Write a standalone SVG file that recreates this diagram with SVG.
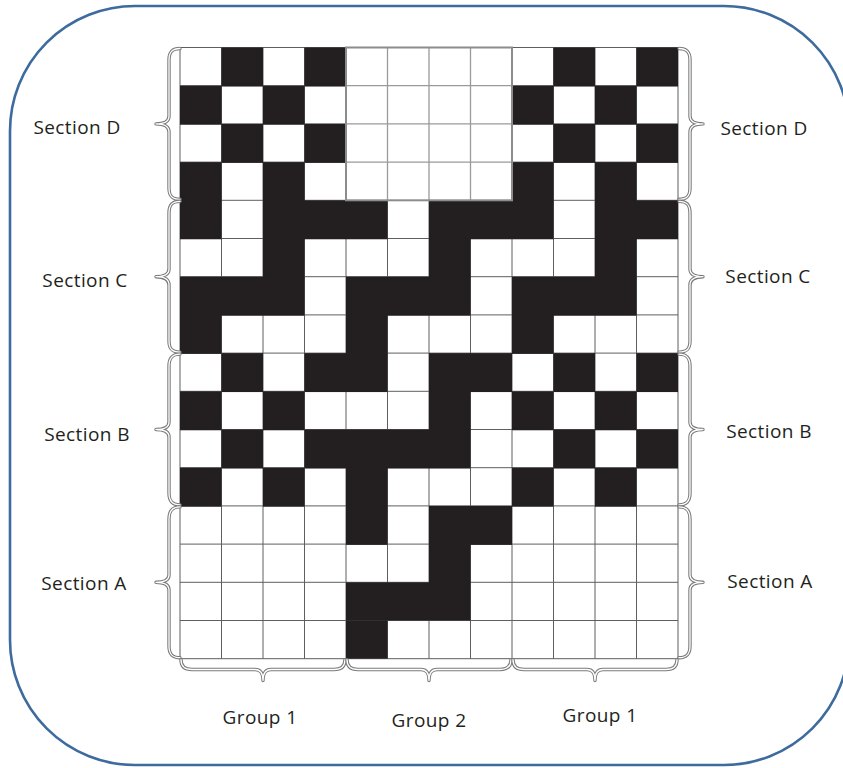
<svg xmlns="http://www.w3.org/2000/svg" width="843" height="768" viewBox="0 0 843 768">
<style>
.lbl{font-family:"Open Sans","Noto Sans","Liberation Sans",sans-serif;font-size:19px;fill:#231f20;letter-spacing:0.4px;text-anchor:middle}
.gl{stroke:#5e5e5e;stroke-width:1;fill:none}
.ml{stroke:#9a9a9a;stroke-width:1.3;fill:none}
.br{fill:none;stroke:#7a7a7a;stroke-width:3.4;stroke-linejoin:round;stroke-linecap:round}
.bri{fill:none;stroke:#ffffff;stroke-width:1.3;stroke-linejoin:round;stroke-linecap:round}
.blk{fill:#231f20}
</style>
<defs>
<path id="bL" d="M 0 0 C -8 0 -11 3 -11 11 L -11 -2 Z"/>
</defs>
<rect width="843" height="768" fill="#ffffff"/>
<g id="frame">
<rect x="10" y="6" width="839" height="759" rx="125" ry="125" fill="none" stroke="#3d6b9e" stroke-width="2.6"/>
</g>
<g id="grid">
<rect x="180" y="47.5" width="498" height="611.2" fill="#ffffff"/>
<g class="gl">
<path d="M180 47.5V658.7M221.5 47.5V658.7M263 47.5V658.7M304.5 47.5V658.7M346 47.5V658.7M387.5 47.5V658.7M429 47.5V658.7M470.5 47.5V658.7M512 47.5V658.7M553.5 47.5V658.7M595 47.5V658.7M636.5 47.5V658.7M678 47.5V658.7"/>
<path d="M180 47.5H678M180 85.7H678M180 123.9H678M180 162.1H678M180 200.3H678M180 238.5H678M180 276.7H678M180 314.9H678M180 353.1H678M180 391.3H678M180 429.5H678M180 467.7H678M180 505.9H678M180 544.1H678M180 582.3H678M180 620.5H678M180 658.7H678"/>
</g>
<g class="blk" transform="translate(180,47.5) scale(41.5,38.2)">
<rect x="1" y="0" width="1" height="1.02"/><rect x="3" y="0" width="1" height="1.02"/><rect x="9" y="0" width="1" height="1.02"/><rect x="11" y="0" width="1" height="1.02"/>
<rect x="0" y="1" width="1" height="1.02"/><rect x="2" y="1" width="1" height="1.02"/><rect x="8" y="1" width="1" height="1.02"/><rect x="10" y="1" width="1" height="1.02"/>
<rect x="1" y="2" width="1" height="1.02"/><rect x="3" y="2" width="1" height="1.02"/><rect x="9" y="2" width="1" height="1.02"/><rect x="11" y="2" width="1" height="1.02"/>
<rect x="0" y="3" width="1" height="1.02"/><rect x="2" y="3" width="1" height="1.02"/><rect x="8" y="3" width="1" height="1.02"/><rect x="10" y="3" width="1" height="1.02"/>
<rect x="0" y="4" width="1" height="1.02"/><rect x="2" y="4" width="3" height="1.02"/><rect x="6" y="4" width="3" height="1.02"/><rect x="10" y="4" width="2" height="1.02"/>
<rect x="2" y="5" width="1" height="1.02"/><rect x="6" y="5" width="1" height="1.02"/><rect x="10" y="5" width="1" height="1.02"/>
<rect x="0" y="6" width="3" height="1.02"/><rect x="4" y="6" width="3" height="1.02"/><rect x="8" y="6" width="3" height="1.02"/>
<rect x="0" y="7" width="1" height="1.02"/><rect x="4" y="7" width="1" height="1.02"/><rect x="8" y="7" width="1" height="1.02"/>
<rect x="1" y="8" width="1" height="1.02"/><rect x="3" y="8" width="2" height="1.02"/><rect x="6" y="8" width="2" height="1.02"/><rect x="9" y="8" width="1" height="1.02"/><rect x="11" y="8" width="1" height="1.02"/>
<rect x="0" y="9" width="1" height="1.02"/><rect x="2" y="9" width="1" height="1.02"/><rect x="6" y="9" width="1" height="1.02"/><rect x="8" y="9" width="1" height="1.02"/><rect x="10" y="9" width="1" height="1.02"/>
<rect x="1" y="10" width="1" height="1.02"/><rect x="3" y="10" width="4" height="1.02"/><rect x="9" y="10" width="1" height="1.02"/><rect x="11" y="10" width="1" height="1.02"/>
<rect x="0" y="11" width="1" height="1.02"/><rect x="2" y="11" width="1" height="1.02"/><rect x="4" y="11" width="1" height="1.02"/><rect x="8" y="11" width="1" height="1.02"/><rect x="10" y="11" width="1" height="1.02"/>
<rect x="4" y="12" width="1" height="1.02"/><rect x="6" y="12" width="2" height="1.02"/>
<rect x="6" y="13" width="1" height="1.02"/>
<rect x="4" y="14" width="3" height="1"/>
<rect x="4" y="15" width="1" height="1"/>
</g>
<g id="plain-block">
<rect x="346" y="47.5" width="166" height="152.8" fill="#ffffff"/>
<path class="ml" d="M387.5 47.5V200.3M429 47.5V200.3M470.5 47.5V200.3M346 85.7H512M346 123.9H512M346 162.1H512"/>
<rect x="346" y="47.5" width="166" height="152.8" fill="none" stroke="#8c8c8c" stroke-width="2"/>
</g>
</g>
<g id="braces">
<g id="brace-left-D"><path class="br" d="M180 48.5C172 48.5 169 52 169 60L169 116C169 121 165 123.9 156 123.9C165 123.9 169 127 169 132L169 188C169 196 172 199.3 180 199.3"/><path class="bri" d="M180 48.5C172 48.5 169 52 169 60L169 116C169 121 165 123.9 156 123.9C165 123.9 169 127 169 132L169 188C169 196 172 199.3 180 199.3"/></g>
<g id="brace-left-C"><path class="br" d="M180 201.3C172 201.3 169 205 169 213L169 269C169 274 165 276.7 156 276.7C165 276.7 169 280 169 285L169 341C169 349 172 352.1 180 352.1"/><path class="bri" d="M180 201.3C172 201.3 169 205 169 213L169 269C169 274 165 276.7 156 276.7C165 276.7 169 280 169 285L169 341C169 349 172 352.1 180 352.1"/></g>
<g id="brace-left-B"><path class="br" d="M180 354.1C172 354.1 169 358 169 366L169 422C169 427 165 429.5 156 429.5C165 429.5 169 432 169 437L169 493C169 501 172 504.9 180 504.9"/><path class="bri" d="M180 354.1C172 354.1 169 358 169 366L169 422C169 427 165 429.5 156 429.5C165 429.5 169 432 169 437L169 493C169 501 172 504.9 180 504.9"/></g>
<g id="brace-left-A"><path class="br" d="M180 506.9C172 506.9 169 511 169 519L169 575C169 580 165 582.3 156 582.3C165 582.3 169 585 169 590L169 646C169 654 172 657.7 180 657.7"/><path class="bri" d="M180 506.9C172 506.9 169 511 169 519L169 575C169 580 165 582.3 156 582.3C165 582.3 169 585 169 590L169 646C169 654 172 657.7 180 657.7"/></g>
<g id="brace-right-D"><path class="br" d="M679 48.5C687 48.5 690 52 690 60L690 116C690 121 694 123.9 703 123.9C694 123.9 690 127 690 132L690 188C690 196 687 199.3 679 199.3"/><path class="bri" d="M679 48.5C687 48.5 690 52 690 60L690 116C690 121 694 123.9 703 123.9C694 123.9 690 127 690 132L690 188C690 196 687 199.3 679 199.3"/></g>
<g id="brace-right-C"><path class="br" d="M679 201.3C687 201.3 690 205 690 213L690 269C690 274 694 276.7 703 276.7C694 276.7 690 280 690 285L690 341C690 349 687 352.1 679 352.1"/><path class="bri" d="M679 201.3C687 201.3 690 205 690 213L690 269C690 274 694 276.7 703 276.7C694 276.7 690 280 690 285L690 341C690 349 687 352.1 679 352.1"/></g>
<g id="brace-right-B"><path class="br" d="M679 354.1C687 354.1 690 358 690 366L690 422C690 427 694 429.5 703 429.5C694 429.5 690 432 690 437L690 493C690 501 687 504.9 679 504.9"/><path class="bri" d="M679 354.1C687 354.1 690 358 690 366L690 422C690 427 694 429.5 703 429.5C694 429.5 690 432 690 437L690 493C690 501 687 504.9 679 504.9"/></g>
<g id="brace-right-A"><path class="br" d="M679 506.9C687 506.9 690 511 690 519L690 575C690 580 694 582.3 703 582.3C694 582.3 690 585 690 590L690 646C690 654 687 657.7 679 657.7"/><path class="bri" d="M679 506.9C687 506.9 690 511 690 519L690 575C690 580 694 582.3 703 582.3C694 582.3 690 585 690 590L690 646C690 654 687 657.7 679 657.7"/></g>
<g id="brace-bottom-1"><path class="br" d="M181 659.7C181 666 184 669.5 192 669.5L255 669.5C260 669.5 263 672 263 680.5C263 672 266 669.5 271 669.5L334 669.5C342 669.5 345 666 345 659.7"/><path class="bri" d="M181 659.7C181 666 184 669.5 192 669.5L255 669.5C260 669.5 263 672 263 680.5C263 672 266 669.5 271 669.5L334 669.5C342 669.5 345 666 345 659.7"/></g>
<g id="brace-bottom-2"><path class="br" d="M347 659.7C347 666 350 669.5 358 669.5L421 669.5C426 669.5 429 672 429 680.5C429 672 432 669.5 437 669.5L500 669.5C508 669.5 511 666 511 659.7"/><path class="bri" d="M347 659.7C347 666 350 669.5 358 669.5L421 669.5C426 669.5 429 672 429 680.5C429 672 432 669.5 437 669.5L500 669.5C508 669.5 511 666 511 659.7"/></g>
<g id="brace-bottom-3"><path class="br" d="M513 659.7C513 666 516 669.5 524 669.5L587 669.5C592 669.5 595 672 595 680.5C595 672 598 669.5 603 669.5L666 669.5C674 669.5 677 666 677 659.7"/><path class="bri" d="M513 659.7C513 666 516 669.5 524 669.5L587 669.5C592 669.5 595 672 595 680.5C595 672 598 669.5 603 669.5L666 669.5C674 669.5 677 666 677 659.7"/></g>
</g>
<g id="labels">
<g id="label-left-D"><text class="lbl" x="77" y="134">Section D</text></g>
<g id="label-right-D"><text class="lbl" x="764" y="135">Section D</text></g>
<g id="label-left-C"><text class="lbl" x="85" y="287">Section C</text></g>
<g id="label-right-C"><text class="lbl" x="768" y="283">Section C</text></g>
<g id="label-left-B"><text class="lbl" x="87" y="441">Section B</text></g>
<g id="label-right-B"><text class="lbl" x="769" y="438">Section B</text></g>
<g id="label-left-A"><text class="lbl" x="84" y="590">Section A</text></g>
<g id="label-right-A"><text class="lbl" x="770" y="588">Section A</text></g>
<g id="label-group1-left"><text class="lbl" x="260" y="724">Group 1</text></g>
<g id="label-group2"><text class="lbl" x="429" y="727">Group 2</text></g>
<g id="label-group1-right"><text class="lbl" x="600" y="722">Group 1</text></g>
</g>
</svg>
